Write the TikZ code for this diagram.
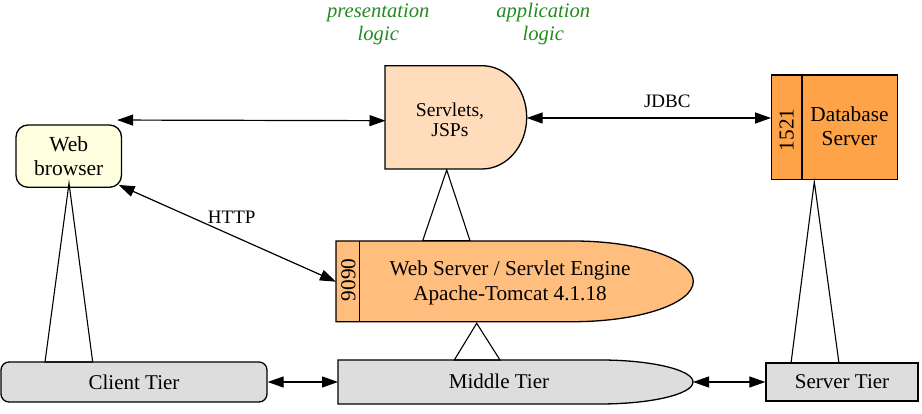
\documentclass[tikz,border=0pt]{standalone}
\usepackage{fontspec}
\setmainfont{Liberation Serif}
\usetikzlibrary{arrows.meta}
\definecolor{browserfill}{RGB}{255,255,224}
\definecolor{servfill}{RGB}{255,221,188}
\definecolor{dbfill}{RGB}{255,163,72}
\definecolor{wsfill}{RGB}{255,190,125}
\definecolor{tierfill}{RGB}{221,221,221}
\definecolor{logicgreen}{RGB}{34,139,34}
\begin{document}
\begin{tikzpicture}[x=1pt,y=1pt,
  box/.style={draw, line width=1.3pt},
  conn/.style={line width=1.2pt, {Triangle[length=16pt,width=11pt]}-{Triangle[length=16pt,width=11pt]}},
  tri/.style={line width=1.1pt, line join=miter},
  big/.style={font=\fontsize{21.3}{24.3}\selectfont, align=center, inner sep=0pt},
  edgelabel/.style={font=\fontsize{19}{22}\selectfont, inner sep=0pt},
  greenlabel/.style={font=\itshape\fontsize{20.6}{23.5}\selectfont, text=logicgreen, align=center, inner sep=0pt}]
\useasboundingbox (0,0) rectangle (922,414);

% green labels
\node[greenlabel] (pres) at (378.3,389.8) {presentation\\logic};
\node[greenlabel] (appl) at (543.3,389.8) {application\\logic};

% Web browser
\node[box, rounded corners=12pt, fill=browserfill, minimum width=105.5pt, minimum height=62.3pt,
      inner sep=0pt, align=center, font=\fontsize{21.5}{24.3}\selectfont] (browser) at (68.75,257.85) {Web\\browser};

% Servlets, JSPs
\draw[box, fill=servfill] (385,348.3) -- (482,348.3)
   arc[start angle=90, end angle=-90, x radius=44.7, y radius=51.65] -- (385,245) -- cycle;
\node[font=\fontsize{19.6}{20.4}\selectfont, align=center, inner sep=0pt] (servlets) at (450,294) {Servlets,\\JSPs};
\coordinate (servW) at (385.5,293.3);
\coordinate (servE) at (526.7,296);
\coordinate (servS) at (446.7,244);

% Database server
\node[box, fill=dbfill, minimum width=126pt, minimum height=104.3pt, inner sep=0pt] (db) at (834.7,286.85) {};
\draw[line width=1.3pt] ([xshift=31pt]db.north west) -- ([xshift=31pt]db.south west);
\node[big, font=\fontsize{21.3}{23.3}\selectfont] (dbtext) at (849.5,287.9) {Database\\Server};
\node[big, rotate=90] (dbport) at (786.7,284) {1521};
\coordinate (dbS) at (814.3,232.3);

% Web server / servlet engine
\draw[box, fill=wsfill] (336,173) -- (573,173)
   arc[start angle=90, end angle=-90, x radius=120.3, y radius=40.35] -- (336,92.3) -- cycle;
\draw[line width=1.3pt] (359.3,173) -- (359.3,92.3);
\node[big, font=\fontsize{21.2}{24.3}\selectfont] (wstext) at (510,131.1) {Web Server / Servlet Engine\\Apache-Tomcat 4.1.18};
\node[big, rotate=90] (wsport) at (348.3,134) {9090};
\coordinate (wsW) at (336,132.3);
\coordinate (wsS) at (476.7,90.7);

% Tiers
\node[box, rounded corners=8pt, fill=tierfill, minimum width=266pt, minimum height=40pt,
      inner sep=0pt, font=\fontsize{21}{24}\selectfont] (client) at (134,32) {Client Tier};
\draw[box, fill=tierfill] (338,54) -- (600,54)
   arc[start angle=90, end angle=-90, x radius=93, y radius=22] -- (338,10) -- cycle;
\node[inner sep=0pt, font=\fontsize{21}{24}\selectfont] (middle) at (499,32.5) {Middle Tier};
\coordinate (midW) at (338,32);
\coordinate (midE) at (693,32);
\node[box, fill=tierfill, minimum width=152pt, minimum height=38pt,
      inner sep=0pt, font=\fontsize{21}{24}\selectfont] (server) at (842,32) {Server Tier};

% connectors
\draw[conn] ([xshift=-5pt,yshift=4.3pt]browser.north east) -- (servW);
\draw[conn] (servE) -- (db.west |- servE);
\draw[conn] ([xshift=-3.5pt,yshift=3pt]browser.south east) -- (wsW);
\draw[conn] (client.east) -- (midW);
\draw[conn] (midE) -- (server.west);

\node[edgelabel] (http) at (231.7,196.7) {HTTP};
\node[edgelabel] (jdbc) at (667.3,312.3) {JDBC};

% tier triangles
\draw[tri] (45,52) -- (69,230.7) -- (92.7,52) -- cycle;
\draw[tri] (422.7,173.3) -- (servS) -- (470,173.3) -- cycle;
\draw[tri] (454.3,54) -- (wsS) -- (500,54) -- cycle;
\draw[tri] (791,50.7) -- (dbS) -- (839,50.7) -- cycle;
\end{tikzpicture}
\end{document}
